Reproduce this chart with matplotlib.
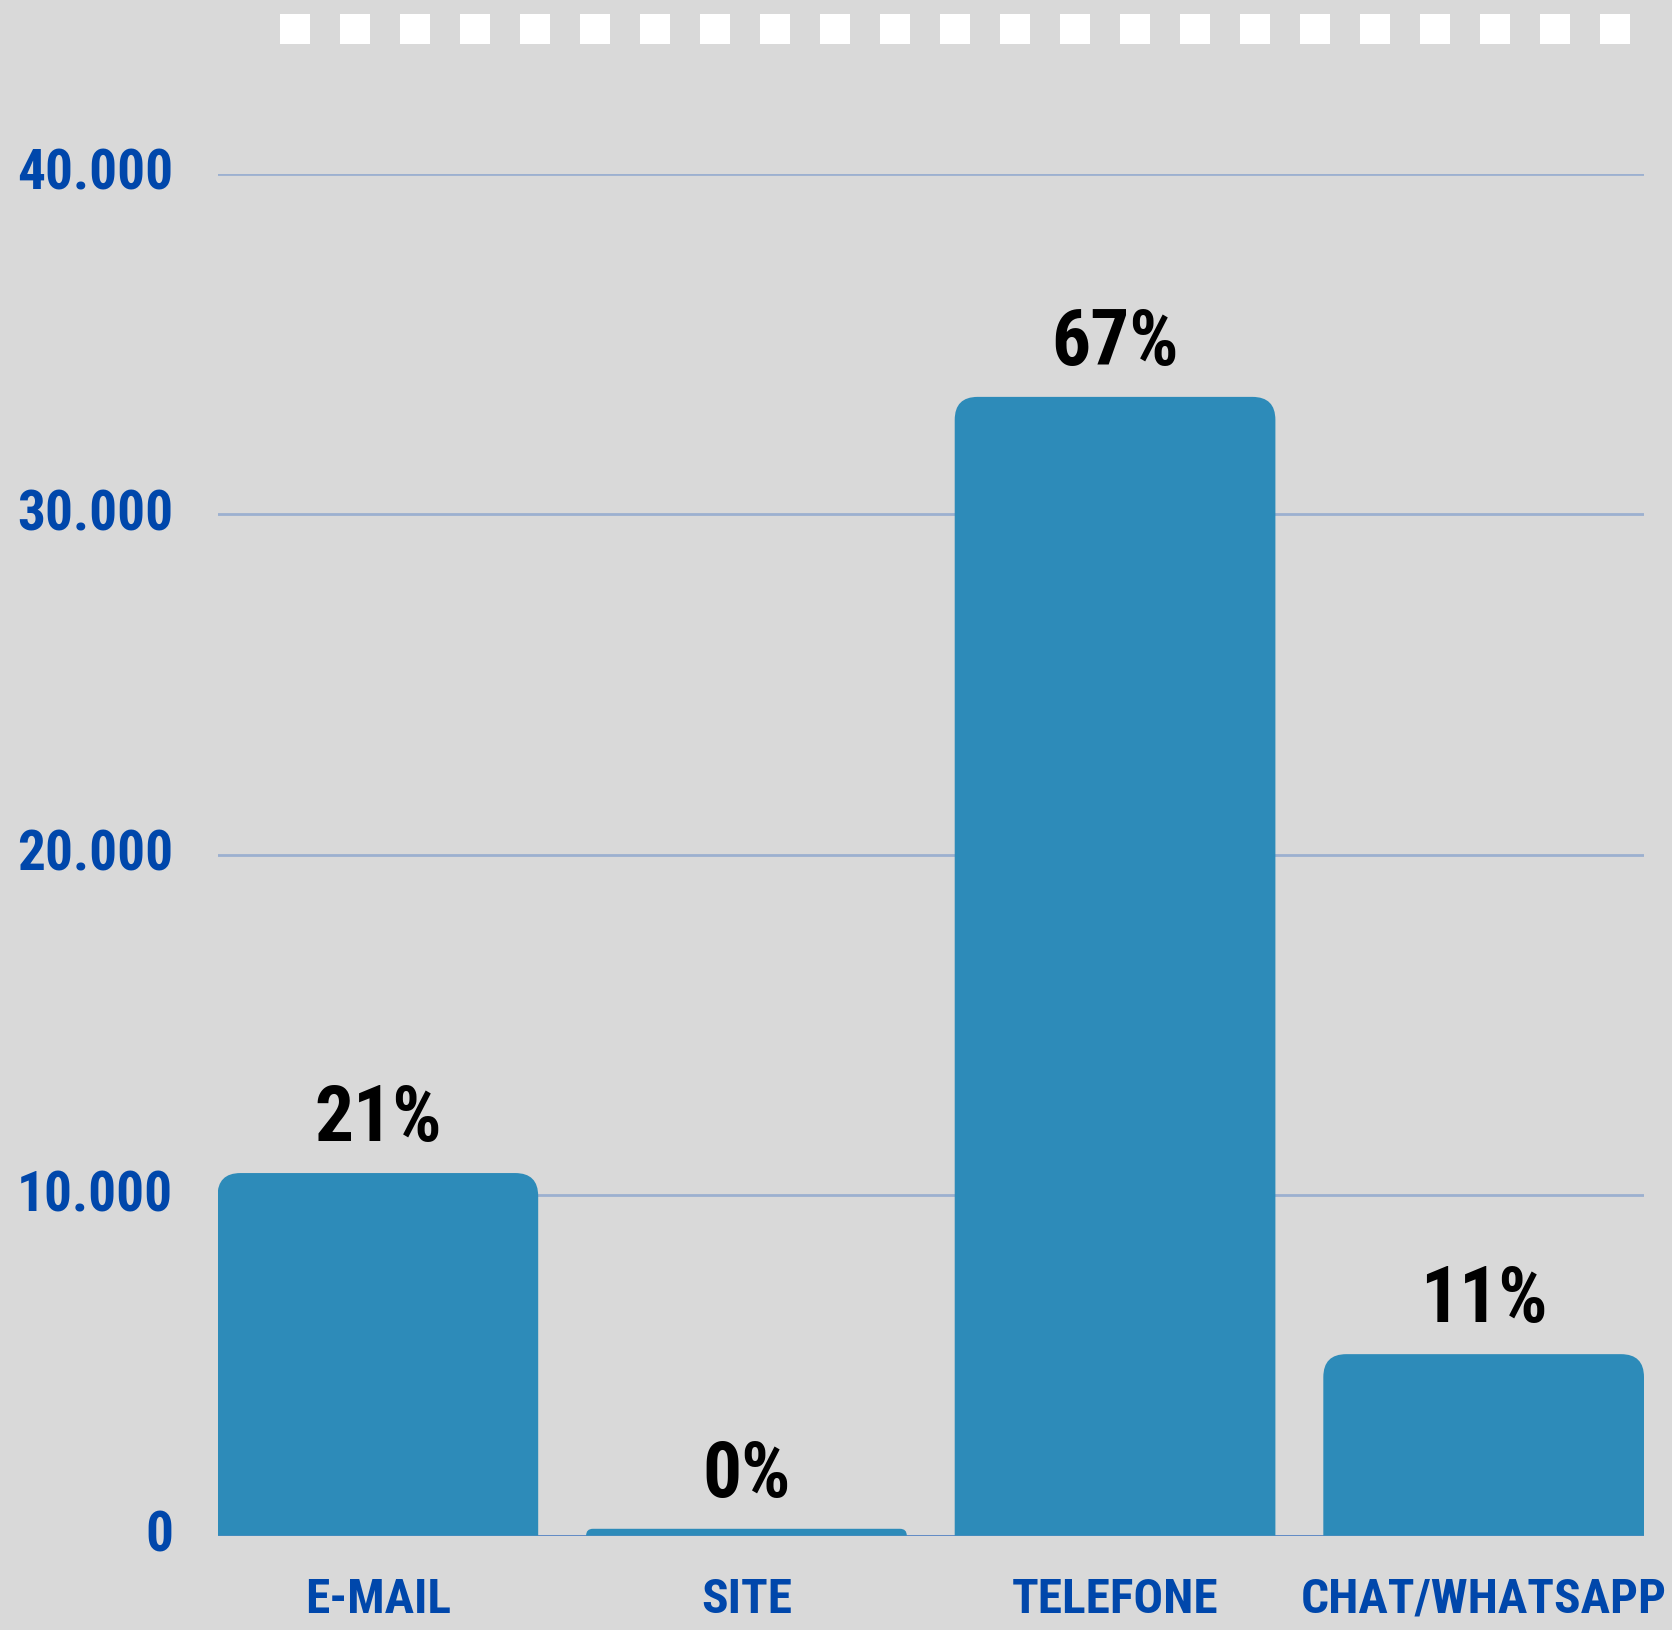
import os
import matplotlib
matplotlib.use('Agg')
import matplotlib.pyplot as plt
from matplotlib import font_manager as fm
from matplotlib.font_manager import FontProperties
from matplotlib.path import Path
from matplotlib.patches import PathPatch, Rectangle
from matplotlib.textpath import TextPath

# data
categories = ['E-MAIL', 'SITE', 'TELEFONE', 'CHAT/WHATSAPP']
values = [10650, 200, 33450, 5330]
pct_labels = ['21%', '0%', '67%', '11%']
yticks = [0, 10000, 20000, 30000, 40000]
ytick_labels = ['0', '10.000', '20.000', '30.000', '40.000']

BG = '#d9d9d9'
BAR = '#2d8bb9'
BLUE = '#0047ab'
GRID = '#9cb0d0'
BASE = '#4f7fc2'
W, H, DPI = 1672, 1631, 100


def find_condensed():
    '''
    Looks for a narrow bold font among the installed ones.
    '''
    wanted = ['NotoSans-ExtraCondensedBold', 'LiberationSansNarrow-Bold',
              'RobotoCondensed-Bold', 'NotoSans-CondensedBold',
              'DejaVuSansCondensed-Bold']
    by_name = {}
    for f in fm.fontManager.ttflist:
        stem = os.path.splitext(os.path.basename(f.fname))[0]
        by_name.setdefault(stem, f.fname)
    for w in wanted:
        if w in by_name:
            return by_name[w]
    return None


font_file = find_condensed()
if font_file:
    base_prop = FontProperties(fname=font_file)
else:
    base_prop = FontProperties(family='DejaVu Sans', weight='bold')


def fit_prop(text, width_px, cap_px):
    '''
    Font size (pt) so that text is about width_px wide and caps cap_px tall.
    '''
    w100 = TextPath((0, 0), text, size=100, prop=base_prop).get_extents().width
    h100 = TextPath((0, 0), 'H', size=100, prop=base_prop).get_extents().height
    px = 100 * min(width_px / w100, cap_px / h100)
    p = base_prop.copy()
    p.set_size(px * 72 / DPI)
    return p


ytick_prop = fit_prop('40.000', 152, 48)
xtick_prop = fit_prop('CHAT/WHATSAPP', 362, 47)
pct_prop = fit_prop('67%', 122, 55)

fig = plt.figure(figsize=(W / DPI, H / DPI), dpi=DPI, facecolor=BG)

# decorative row of white squares along the top
for i in range(23):
    fig.patches.append(Rectangle(((280 + 60 * i) / W, 1 - 45 / H), 30 / W, 30 / H,
                                 transform=fig.transFigure, facecolor='white',
                                 edgecolor='none'))

left, right = 217.5, 1644
bottom, top = 1536.6, 174.9
ax = fig.add_axes([left / W, 1 - bottom / H, (right - left) / W, (bottom - top) / H])
ax.set_facecolor(BG)
for s in ax.spines.values():
    s.set_visible(False)

x = list(range(len(categories)))
bar_w = 0.87
ax.set_xlim(-bar_w / 2, len(categories) - 1 + bar_w / 2)
ax.set_ylim(0, 40000)

ax.set_yticks(yticks)
ax.set_yticklabels(ytick_labels)
ax.set_axisbelow(True)
ax.grid(axis='y', color=GRID, linewidth=2.0, zorder=0)
ax.axhline(0, color=BASE, linewidth=1.8, zorder=1)

ax.set_xticks(x)
ax.set_xticklabels(categories)
ax.tick_params(axis='both', length=0)
ax.tick_params(axis='y', pad=32, colors=BLUE)
ax.tick_params(axis='x', pad=29, colors=BLUE)
for lab in ax.get_yticklabels():
    lab.set_fontproperties(ytick_prop)
    lab.set_verticalalignment('center')
for lab in ax.get_xticklabels():
    lab.set_fontproperties(xtick_prop)

bars = ax.bar(x, values, width=bar_w, color=BAR, zorder=3)

# rounded tops: rebuild each bar as a path
px_x = (right - left) / (ax.get_xlim()[1] - ax.get_xlim()[0])
px_y = (bottom - top) / (ax.get_ylim()[1] - ax.get_ylim()[0])
for rect, pct in zip(bars, pct_labels):
    x0, w, h = rect.get_x(), rect.get_width(), rect.get_height()
    r_px = min(23, h * px_y)
    rx, ry = r_px / px_x, r_px / px_y
    verts = [(x0, 0), (x0, h - ry), (x0, h), (x0 + rx, h),
             (x0 + w - rx, h), (x0 + w, h), (x0 + w, h - ry),
             (x0 + w, 0), (x0, 0)]
    codes = [Path.MOVETO, Path.LINETO, Path.CURVE3, Path.CURVE3,
             Path.LINETO, Path.CURVE3, Path.CURVE3, Path.LINETO, Path.CLOSEPOLY]
    ax.add_patch(PathPatch(Path(verts, codes), facecolor=BAR,
                           edgecolor='none', zorder=3))
    rect.set_visible(False)
    ax.annotate(pct, (x0 + w / 2, h), xytext=(0, 33 * 72 / DPI),
                textcoords='offset points', ha='center', va='baseline',
                fontproperties=pct_prop, color='black', annotation_clip=False)

plt.savefig('out.png', dpi=DPI, facecolor=BG)
plt.close()
